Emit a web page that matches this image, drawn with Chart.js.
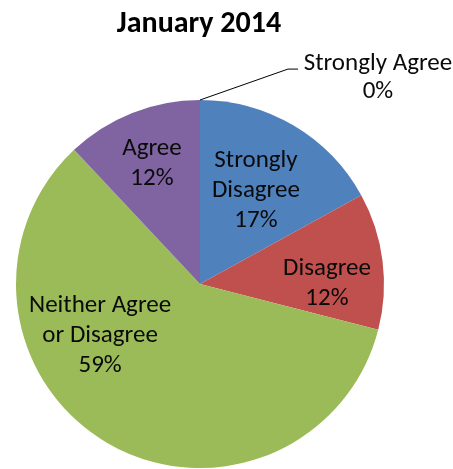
<!DOCTYPE html>
<html>
<head>
<meta charset="utf-8">
<script src="https://cdn.jsdelivr.net/npm/chart.js@4/dist/chart.umd.min.js"></script>
<style>
  html, body { margin: 0; padding: 0; background: #ffffff; overflow: hidden; }
  canvas { display: block; }
</style>
</head>
<body>
<canvas id="pie" width="453" height="469"></canvas>
<script>
// Survey responses, January 2014 (percent of respondents)
const categories = ['Strongly Disagree', 'Disagree', 'Neither Agree or Disagree', 'Agree', 'Strongly Agree'];
const percentages = [17, 12, 59, 12, 0];
const sliceColors = ['#4F81BD', '#C0504D', '#9BBB59', '#8064A2', '#F79646'];
const labelLines = [
  ['Strongly', 'Disagree'],
  ['Disagree'],
  ['Neither Agree', 'or Disagree'],
  ['Agree'],
  ['Strongly Agree']
];
const chartTitle = 'January 2014';

// Label anchors, in units of the pie radius from its centre: x centre, first baseline
const labelAnchors = [
  { x: 0.304, y: -0.636 },
  { x: 0.690, y: -0.049 },
  { x: -0.543, y: 0.152 },
  { x: -0.261, y: -0.701 },
  { x: 0.967, y: -1.163 }
];
const leaderElbow = { x: 0.478, y: -1.168 };
const leaderEnd = { x: 0.533, y: -1.168 };

const FONT = 'Calibri, Carlito, Lato, "Open Sans", sans-serif';
const LINE_GAP = 30;

const labelPlugin = {
  id: 'sliceLabels',
  afterDatasetsDraw(chart) {
    const ctx = chart.ctx;
    const arcs = chart.getDatasetMeta(0).data;
    const cx = arcs[0].x, cy = arcs[0].y, r = arcs[0].outerRadius;

    ctx.save();
    // title
    ctx.fillStyle = '#000000';
    ctx.font = 'bold 30px ' + FONT;
    ctx.textAlign = 'center';
    ctx.textBaseline = 'alphabetic';
    ctx.fillText(chartTitle, cx - 1, 32);

    // leader line for the zero slice
    const zeroIdx = percentages.indexOf(0);
    if (zeroIdx >= 0) {
      const a = arcs[zeroIdx].startAngle;
      ctx.strokeStyle = '#000000';
      ctx.lineWidth = 1;
      ctx.beginPath();
      ctx.moveTo(cx + Math.cos(a) * r, cy + Math.sin(a) * r);
      ctx.lineTo(cx + leaderElbow.x * r, cy + leaderElbow.y * r);
      ctx.lineTo(cx + leaderEnd.x * r, cy + leaderEnd.y * r);
      ctx.stroke();
    }

    // category + percentage labels
    ctx.font = '25px ' + FONT;
    ctx.fillStyle = '#0a0a0a';
    categories.forEach((c, i) => {
      const lines = labelLines[i].concat([percentages[i] + '%']);
      const x = cx + labelAnchors[i].x * r;
      let y = cy + labelAnchors[i].y * r;
      lines.forEach(t => {
        ctx.fillText(t, x, y);
        y += (i === 4 ? 28 : LINE_GAP);
      });
    });
    ctx.restore();
  }
};

new Chart(document.getElementById('pie'), {
  type: 'pie',
  data: {
    labels: categories,
    datasets: [{
      data: percentages,
      backgroundColor: sliceColors,
      borderWidth: 0,
      hoverOffset: 0
    }]
  },
  options: {
    responsive: false,
    animation: false,
    events: [],
    layout: { padding: { top: 100, bottom: 1, left: 16, right: 69 } },
    plugins: {
      legend: { display: false },
      tooltip: { enabled: false },
      title: { display: false }
    }
  },
  plugins: [labelPlugin]
});
</script>
</body>
</html>
